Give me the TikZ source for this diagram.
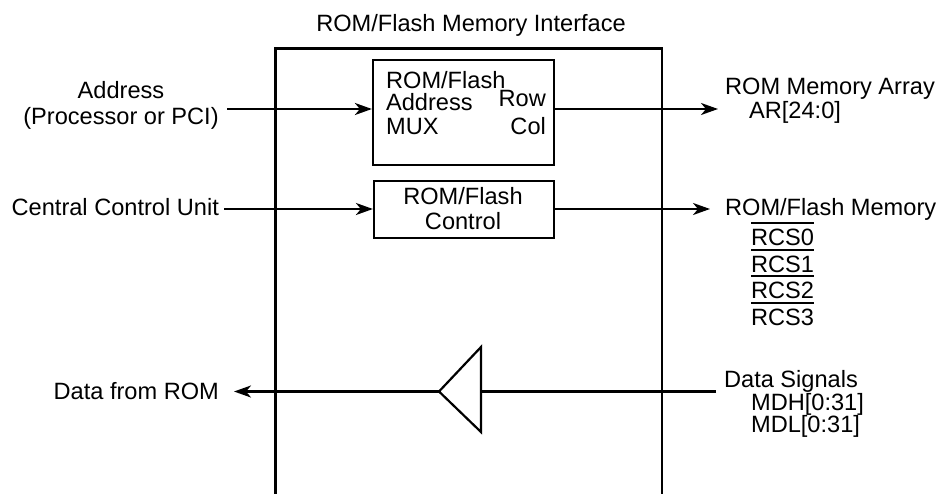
\documentclass[tikz,border=0pt]{standalone}
\usepackage{fontspec}
\setmainfont{Liberation Sans}
\usetikzlibrary{arrows.meta}
\newcommand\ovlbar[1]{\setbox0\hbox{#1}\rlap{\rule[21pt]{\wd0}{2pt}}\box0}
\begin{document}
\begin{tikzpicture}[x=1pt,y=-1pt,
  line width=2.2pt,
  txt/.style={inner sep=0pt, font=\fontsize{23.6}{25}\selectfont},
  box/.style={draw, line width=2.2pt, inner sep=0pt},
  arr/.style={-{Stealth[length=17pt,width=12pt,inset=5pt]}}]
\useasboundingbox (0,0) rectangle (939,493);

% title
\node[txt, anchor=base] (title) at (471,31) {ROM/Flash Memory Interface};

% outer interface block (open at bottom)
\draw (275.5,494) |- (662,48.5) -- (662,494);

% MUX box
\node[box, minimum width=181pt, minimum height=105pt] (mux) at (463.5,112.5) {};
\node[txt, anchor=base west] (m1) at (385,88) {ROM/Flash};
\node[txt, anchor=base west] (m2) at (385,110) {Address};
\node[txt, anchor=base west] (m3) at (385,134) {MUX};
\node[txt, anchor=base east] (mrow) at (547,106) {Row};
\node[txt, anchor=base east] (mcol) at (547,134) {Col};

% Control box
\node[box, minimum width=180pt, minimum height=57pt] (ctl) at (464,209.5) {};
\node[txt, anchor=base] (c1) at (463,204) {ROM/Flash};
\node[txt, anchor=base] (c2) at (463,229) {Control};

% left labels
\node[txt, anchor=base] (addr1) at (121,98) {Address};
\node[txt, anchor=base] (addr2) at (121,124) {(Processor or PCI)};
\node[txt, anchor=base east] (ccu) at (220,215) {Central Control Unit};
\node[txt, anchor=base east] (dfr) at (220,399) {Data from ROM};

% right labels
\node[txt, anchor=base west] (rma) at (724,94) {ROM Memory Array};
\node[txt, anchor=base west] (ar) at (748,118) {AR[24:0]};
\node[txt, anchor=base west] (rfm) at (724,215) {ROM/Flash Memory};
\node[txt, anchor=base west] (r0) at (750,245) {\ovlbar{RCS0}};
\node[txt, anchor=base west] (r1) at (750,272) {\ovlbar{RCS1}};
\node[txt, anchor=base west] (r2) at (750,298) {\ovlbar{RCS2}};
\node[txt, anchor=base west] (r3) at (750,325) {\ovlbar{RCS3}};
\node[txt, anchor=base west] (ds) at (723,387) {Data Signals};
\node[txt, anchor=base west] (mdh) at (750,410) {MDH[0:31]};
\node[txt, anchor=base west] (mdl) at (750,432) {MDL[0:31]};

% connectors
\coordinate (addrE) at (227,109);
\draw[arr] (addrE) -- (addrE -| mux.west);
\coordinate (arE) at (718,109);
\draw[arr] (mux.east |- arE) -- (arE);
\coordinate (ccuE) at (224,209);
\draw[arr] (ccuE) -- (ccuE -| ctl.west);
\coordinate (rcsE) at (710,209);
\draw[arr] (ctl.east |- rcsE) -- (rcsE);

% data buffer
\coordinate (tip) at (439,391.5);
\coordinate (base) at (481,391.5);
\draw[line join=miter] (481,347) -- (tip) -- (481,432) -- cycle;
\coordinate (dsE) at (716,391.5);
\draw (dsE) -- (base);
\coordinate (dfrE) at (234,391.5);
\draw[arr] (tip) -- (dfrE);
\end{tikzpicture}
\end{document}
